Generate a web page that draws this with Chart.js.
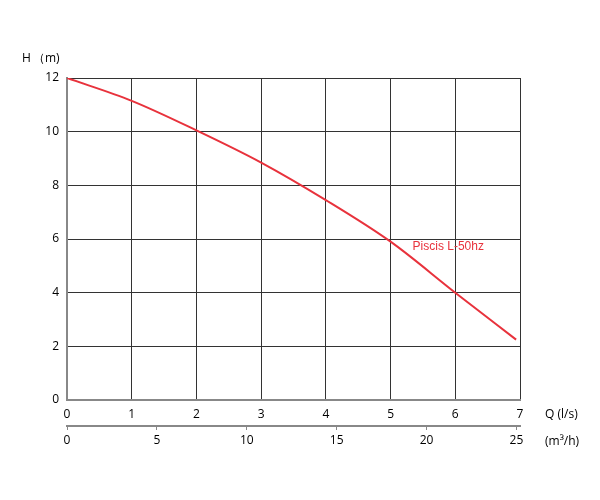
<!DOCTYPE html>
<html>
<head>
<meta charset="utf-8">
<script src="https://cdn.jsdelivr.net/npm/chart.js@4"></script>
<style>
  body { margin: 0; background: #fff; }
  #wrap { width: 600px; height: 500px; }
</style>
</head>
<body>
<div id="wrap"><canvas id="pumpChart"></canvas></div>
<script>
// flow in l/s and head in m
var flowLs = [0, 1, 2, 3, 4, 5, 6, 6.94];
var headM = [12, 11.15, 10.05, 8.85, 7.45, 5.9, 4.0, 2.25];
var m3hTicks = [0, 5, 10, 15, 20, 25];
var curveName = "Piscis L-50hz";

var red = "#e8323c";
var tickFont = { family: "Open Sans", size: 12 };

var points = [];
for (var i = 0; i < flowLs.length; i++) {
  points.push({ x: flowLs[i], y: headM[i] });
}

// axis titles and the curve name
var labelsPlugin = {
  id: "extraLabels",
  afterDraw: function(chart) {
    var ctx = chart.ctx;
    var xs = chart.scales.x;
    var ys = chart.scales.y;
    ctx.save();
    ctx.fillStyle = "#000";
    ctx.font = "12px 'Open Sans'";
    ctx.textBaseline = "middle";
    ctx.textAlign = "left";
    ctx.fillText("H", 22, 59);
    ctx.fillText("（m)", 33, 59);
    ctx.fillText("Q (l/s)", 545, 415);
    ctx.fillText("(m³/h)", 545, 442);

    ctx.fillStyle = red;
    ctx.font = "12px 'Liberation Sans'";
    ctx.fillText(curveName, xs.getPixelForValue(5.34), ys.getPixelForValue(5.7));
    ctx.restore();
  }
};

var myChart = new Chart(document.getElementById("pumpChart"), {
  type: "scatter",
  data: {
    datasets: [{
      label: curveName,
      data: points,
      showLine: true,
      borderColor: red,
      borderWidth: 2,
      pointRadius: 0,
      cubicInterpolationMode: "monotone"
    }]
  },
  options: {
    responsive: true,
    maintainAspectRatio: false,
    animation: false,
    layout: {
      padding: { left: 0, right: 80, top: 78, bottom: 44 }
    },
    plugins: {
      legend: { display: false },
      tooltip: { enabled: false }
    },
    scales: {
      x: {
        type: "linear",
        position: "bottom",
        weight: 0,
        min: 0,
        max: 7,
        ticks: { stepSize: 1, color: "#000", font: tickFont, padding: 7, maxRotation: 0 },
        grid: { color: "#333", lineWidth: 1, drawTicks: false },
        border: { color: "#888", width: 2 },
        afterFit: function(scale) { scale.height = 26; }
      },
      x2: {
        type: "linear",
        position: "bottom",
        weight: 1,
        min: 0,
        max: 7 * 3.6,
        afterBuildTicks: function(scale) {
          scale.ticks = m3hTicks.map(function(v) { return { value: v }; });
        },
        ticks: { color: "#000", font: tickFont, padding: 3, maxRotation: 0 },
        grid: { drawOnChartArea: false, color: "#888", tickLength: 4 },
        border: { color: "#888", width: 2 },
        afterFit: function(scale) { scale.height = 30; }
      },
      y: {
        type: "linear",
        min: 0,
        max: 12,
        ticks: { stepSize: 2, color: "#000", font: tickFont, padding: 8 },
        grid: { color: "#333", lineWidth: 1, drawTicks: false },
        border: { color: "#888", width: 2 },
        afterFit: function(scale) { scale.width = 67; }
      }
    }
  },
  plugins: [labelsPlugin]
});
</script>
</body>
</html>
